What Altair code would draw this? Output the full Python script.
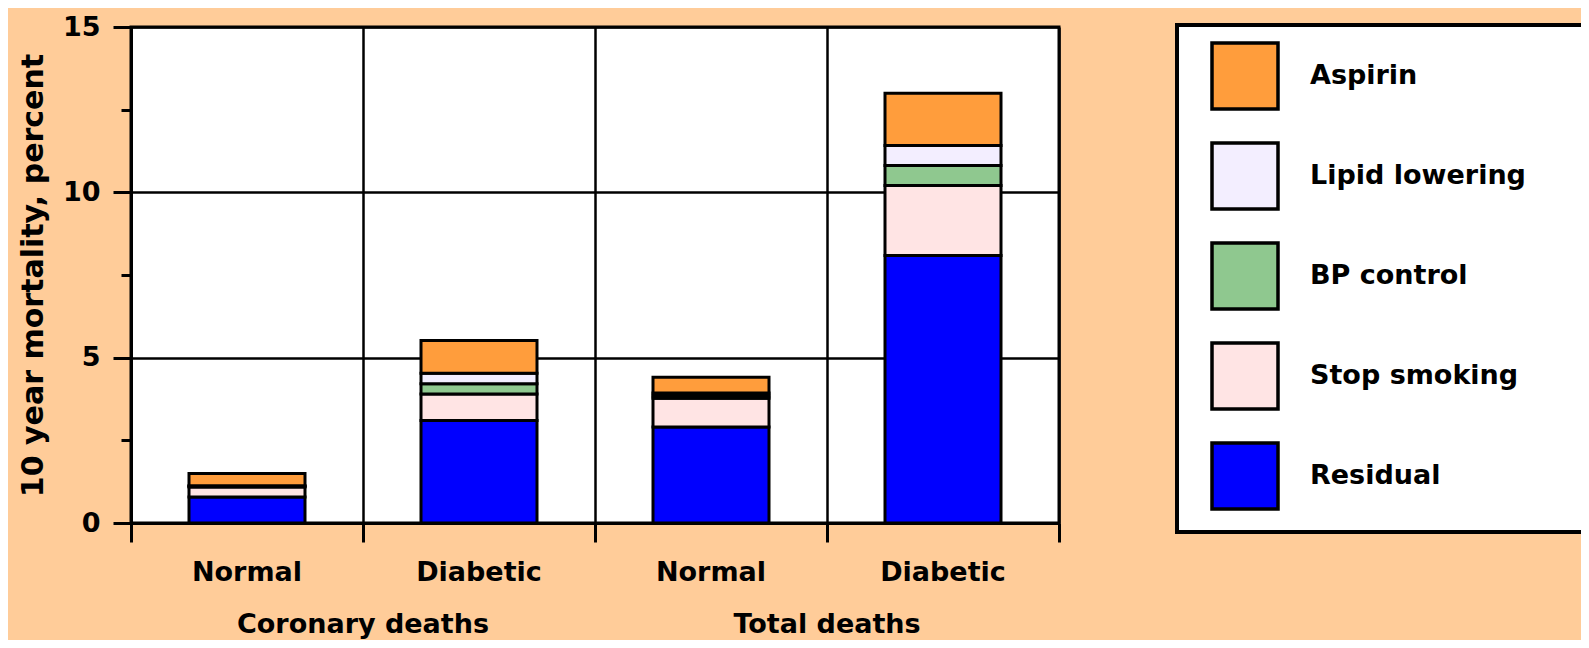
import altair as alt
import pandas as pd

# ---- data ----
groups = ["Coronary deaths", "Coronary deaths", "Total deaths", "Total deaths"]
categories = ["Normal", "Diabetic", "Normal", "Diabetic"]
series = ["Residual", "Stop smoking", "BP control", "Lipid lowering", "Aspirin"]
residual = [0.79, 3.10, 2.90, 8.09]
stop_smoking = [0.30, 0.80, 0.87, 2.12]
bp_control = [0.02, 0.31, 0.08, 0.60]
lipid_lowering = [0.02, 0.32, 0.08, 0.61]
aspirin = [0.37, 0.99, 0.48, 1.58]

legend_order = ["Aspirin", "Lipid lowering", "BP control", "Stop smoking", "Residual"]
legend_colors = ["#FF9D3C", "#F3EEFF", "#8FC88F", "#FFE4E4", "#0000FF"]
y_major = [0, 5, 10, 15]
y_minor = [2.5, 7.5, 12.5]
x_bounds = [0, 1, 2, 3, 4]

FONT = "DejaVu Sans"
W, H = 928, 496

rows = []
values = [residual, stop_smoking, bp_control, lipid_lowering, aspirin]
for i, (g, c) in enumerate(zip(groups, categories)):
    for k, (s, vals) in enumerate(zip(series, values)):
        rows.append({"idx": i, "group": g, "category": c, "series": s,
                     "value": vals[i], "order": k})
df = pd.DataFrame(rows)

x_scale = alt.Scale(domain=[0, 4], nice=False, zero=False)
y_scale = alt.Scale(domain=[0, 15], nice=False)

base = alt.Chart(df).transform_stack(
    stack="value", groupby=["idx"], as_=["y0", "y1"], sort=[alt.SortField("order")]
).transform_calculate(x0="datum.idx + 0.25", x1="datum.idx + 0.75")

# blank (non-whitespace) padding so the legend box reaches the right edge
pad_expr = "datum.label + '" + "\u2800" * 2 + "'"

bars = base.mark_bar(stroke="black", strokeWidth=3).encode(
    x=alt.X("x0:Q", scale=x_scale,
            axis=alt.Axis(values=x_bounds, grid=True, labels=False, title=None,
                          tickSize=19, tickWidth=3, tickColor="black",
                          domainWidth=3, domainColor="black",
                          gridColor="black", gridWidth=2.5, gridOpacity=1)),
    x2="x1:Q",
    y=alt.Y("y0:Q", scale=y_scale,
            axis=alt.Axis(values=y_major, grid=True, orient="left",
                          title="10 year mortality, percent",
                          titleFont=FONT, titleFontSize=30, titleFontWeight="bold",
                          titleColor="black", titlePadding=14,
                          labelFont=FONT, labelFontSize=27, labelFontWeight="bold",
                          labelColor="black", labelPadding=13,
                          tickSize=18, tickWidth=3, tickColor="black",
                          domainWidth=3, domainColor="black",
                          gridColor="black", gridWidth=2.5, gridOpacity=1)),
    y2="y1:Q",
    color=alt.Color("series:N",
                    scale=alt.Scale(domain=legend_order, range=legend_colors),
                    sort=legend_order,
                    legend=alt.Legend(title=None, orient="none",
                                      legendX=1046, legendY=-2,
                                      symbolType="square", symbolSize=4356,
                                      symbolStrokeColor="black", symbolStrokeWidth=3.5,
                                      symbolOpacity=1, symbolOffset=17,
                                      labelFont=FONT, labelFontSize=27,
                                      labelFontWeight="bold", labelColor="black",
                                      labelOffset=30, labelLimit=800,
                                      labelExpr=pad_expr,
                                      rowPadding=20, padding=16,
                                      strokeColor="black",
                                      fillColor="white")),
    order=alt.Order("order:Q"),
)

minor = base.mark_point(opacity=0).encode(
    y=alt.Y("y1:Q", scale=y_scale,
            axis=alt.Axis(values=y_minor, orient="left", labels=False, grid=False,
                          domain=False, title=None, tickSize=10, tickWidth=3,
                          tickColor="black")),
)

cat_labels = alt.Chart(df).transform_filter("datum.order == 0").transform_calculate(
    xc="datum.idx + 0.5"
).mark_text(font=FONT, fontSize=27, fontWeight="bold", color="black",
            baseline="middle").encode(
    x=alt.X("xc:Q", scale=x_scale),
    y=alt.value(H + 50),
    text="category:N",
)

group_labels = alt.Chart(df).transform_filter("datum.order == 0").transform_calculate(
    xc="datum.idx + 0.5"
).transform_aggregate(xc="mean(xc)", groupby=["group"]).mark_text(
    font=FONT, fontSize=27, fontWeight="bold", color="black", baseline="middle"
).encode(
    x=alt.X("xc:Q", scale=x_scale),
    y=alt.value(H + 102),
    text="group:N",
)

chart = alt.layer(bars, minor, cat_labels, group_labels).resolve_axis(
    y="independent"
).properties(
    width=W, height=H,
    autosize=alt.AutoSizeParams(type="none"),
    padding={"left": 123, "top": 19, "right": 522, "bottom": 117},
    background="#FFCC99",
).configure_view(stroke="black", strokeWidth=3, fill="white"
).configure_legend(strokeWidth=4)

chart.save("out.html", embed_options={"renderer": "svg", "actions": False})
